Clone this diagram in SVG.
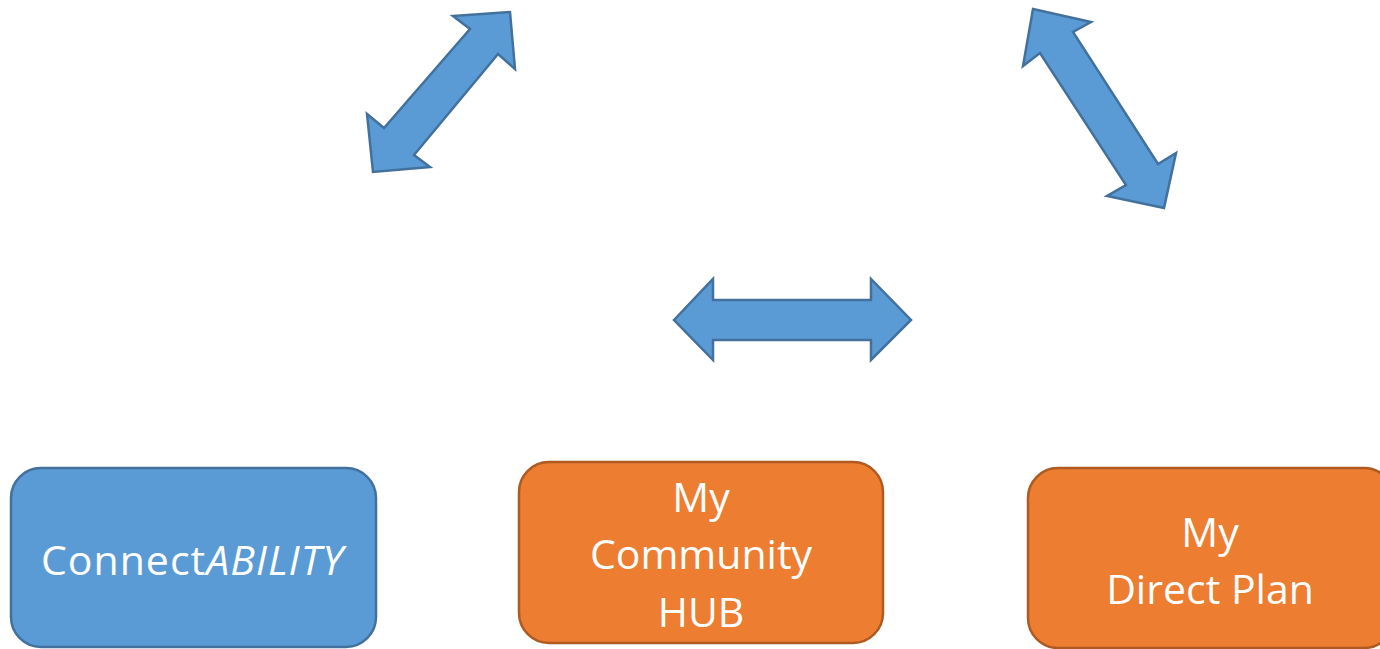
<svg xmlns="http://www.w3.org/2000/svg" width="1380" height="649" viewBox="0 0 1380 649">
<style>
.arrow{fill:#5B9BD5;stroke:#41719C;stroke-width:2.5;stroke-linejoin:miter}
.blue{fill:#5B9BD5;stroke:#41719C;stroke-width:2.5}
.orange{fill:#ED7D31;stroke:#AE5A21;stroke-width:2.5}
.lbl{font-family:"Open Sans","Noto Sans",sans-serif;font-size:41px;fill:#FFFFFF;text-anchor:middle}
</style>
<rect width="1380" height="649" fill="#FFFFFF"/>
<g id="connectors">
<polygon class="arrow" points="510,12 515,69 498,54 414,155 430,167 373,172 367,114 384,128 470,29 453,16"/>
<polygon class="arrow" points="1033,9 1091,22 1073,32 1158,164 1176,153 1164,208 1107,196 1126,185 1040,53 1023,66"/>
<polygon class="arrow" points="674,320 713,279 713,300 871,300 871,279 911,320 871,360 871,340 713,340 713,360"/>
</g>
<g id="node-connectability">
<rect class="blue" x="11" y="468" width="365" height="179" rx="30" ry="30"/>
<text class="lbl" x="192" y="575" font-size="42" textLength="302" lengthAdjust="spacing">Connect<tspan font-style="italic">ABILITY</tspan></text>
</g>
<g id="node-community-hub">
<rect class="orange" x="519" y="462" width="364" height="181" rx="30" ry="30"/>
<text class="lbl" x="701" y="512">My</text>
<text class="lbl" x="701" y="569">Community</text>
<text class="lbl" x="701" y="627">HUB</text>
</g>
<g id="node-direct-plan">
<rect class="orange" x="1028" y="468" width="366" height="180" rx="30" ry="30"/>
<text class="lbl" x="1210" y="547">My</text>
<text class="lbl" x="1210" y="604">Direct Plan</text>
</g>
</svg>
